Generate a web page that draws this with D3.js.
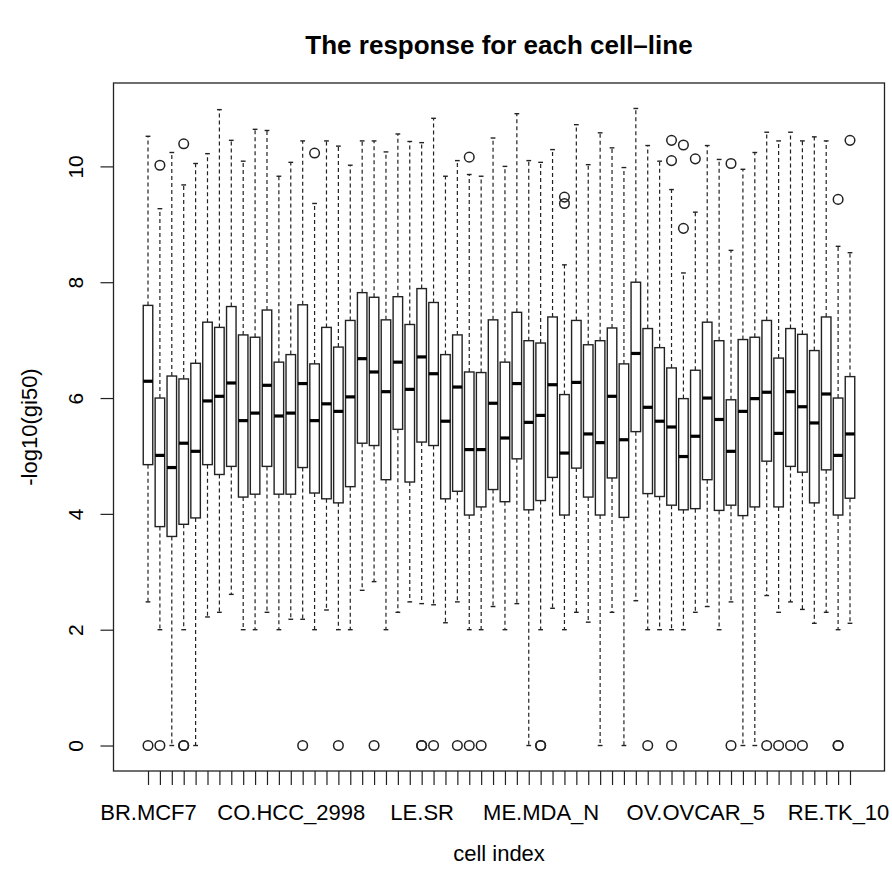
<!DOCTYPE html>
<html>
<head>
<meta charset="utf-8">
<script src="https://cdnjs.cloudflare.com/ajax/libs/d3/7.8.5/d3.min.js"></script>
<style>
    body { margin: 0; background: #fff; }
    svg { display: block; font-family: "Liberation Sans", Arial, Helvetica, sans-serif; }
</style>
</head>
<body>
<div id="chart"></div>
<script>
// NCI-60 cell lines, in plotting order
const cellNames = [
    "BR.MCF7", "BR.MDA_MB_231", "BR.HS578T", "BR.BT_549", "BR.T47D",
    "CNS.SF_268", "CNS.SF_295", "CNS.SF_539", "CNS.SNB_19", "CNS.SNB_75", "CNS.U251",
    "CO.COLO205", "CO.HCC_2998", "CO.HCT_116", "CO.HCT_15", "CO.HT29", "CO.KM12", "CO.SW_620",
    "LE.CCRF_CEM", "LE.HL_60", "LE.K_562", "LE.MOLT_4", "LE.RPMI_8226", "LE.SR",
    "ME.LOX_IMVI", "ME.MALME_3M", "ME.M14", "ME.SK_MEL_2", "ME.SK_MEL_28", "ME.SK_MEL_5",
    "ME.UACC_257", "ME.UACC_62", "ME.MDA_MB_435", "ME.MDA_N",
    "LC.A549", "LC.EKVX", "LC.HOP_62", "LC.HOP_92", "LC.NCI_H226", "LC.NCI_H23",
    "LC.NCI_H322M", "LC.NCI_H460", "LC.NCI_H522",
    "OV.IGROV1", "OV.OVCAR_3", "OV.OVCAR_4", "OV.OVCAR_5", "OV.OVCAR_8", "OV.SK_OV_3", "OV.NCI_ADR_RES",
    "PR.PC_3", "PR.DU_145",
    "RE.786_0", "RE.A498", "RE.ACHN", "RE.CAKI_1", "RE.RXF_393", "RE.SN12C", "RE.TK_10", "RE.UO_31"
];

// five-number summaries
const whiskerLow = [
    2.48, 2.00, 0.00, 2.00, 0.00, 2.22, 2.30, 2.61, 2.00, 2.00,
    2.30, 2.00, 2.18, 2.18, 2.00, 2.34, 2.00, 2.00, 2.68, 2.83,
    2.00, 2.30, 2.48, 2.45, 2.43, 2.12, 2.48, 2.00, 2.00, 2.40,
    2.00, 2.45, 0.00, 2.00, 2.37, 2.00, 2.30, 2.13, 0.00, 2.30,
    0.00, 2.50, 2.00, 2.00, 2.00, 2.00, 2.30, 2.40, 2.00, 2.48,
    0.00, 0.00, 2.59, 2.30, 2.48, 2.35, 2.11, 2.30, 2.00, 2.11
];
const q1 = [
    4.85, 3.78, 3.61, 3.82, 3.93, 4.85, 4.68, 4.82, 4.29, 4.34,
    4.82, 4.34, 4.34, 4.80, 4.36, 4.26, 4.19, 4.47, 5.22, 5.18,
    4.59, 5.46, 4.55, 5.24, 5.18, 4.26, 4.39, 3.98, 4.12, 4.42,
    4.21, 4.95, 4.07, 4.23, 4.63, 3.98, 4.79, 4.29, 3.98, 4.62,
    3.94, 5.42, 4.35, 4.30, 4.15, 4.07, 4.09, 4.59, 4.06, 4.15,
    3.97, 4.12, 4.91, 4.12, 4.82, 4.72, 4.19, 4.76, 3.98, 4.27
];
const medians = [
    6.29, 5.01, 4.80, 5.22, 5.08, 5.95, 6.03, 6.26, 5.61, 5.74,
    6.22, 5.69, 5.74, 6.25, 5.61, 5.90, 5.77, 6.02, 6.68, 6.45,
    6.11, 6.62, 6.15, 6.71, 6.42, 5.60, 6.19, 5.11, 5.11, 5.91,
    5.31, 6.25, 5.58, 5.70, 6.23, 5.05, 6.27, 5.38, 5.23, 6.03,
    5.28, 6.77, 5.84, 5.60, 5.50, 4.99, 5.34, 6.00, 5.63, 5.08,
    5.77, 5.99, 6.10, 5.39, 6.11, 5.85, 5.57, 6.07, 5.01, 5.38
];
const q3 = [
    7.60, 6.00, 6.38, 6.33, 6.60, 7.31, 7.22, 7.58, 7.09, 7.05,
    7.52, 6.62, 6.75, 7.61, 6.59, 7.22, 6.88, 7.34, 7.82, 7.74,
    7.35, 7.75, 7.27, 7.89, 7.65, 6.75, 7.09, 6.45, 6.44, 7.35,
    6.62, 7.48, 6.99, 6.95, 7.40, 6.06, 7.34, 6.92, 6.99, 7.21,
    6.59, 8.00, 7.20, 6.87, 6.52, 5.99, 6.48, 7.31, 6.99, 5.97,
    7.01, 7.05, 7.34, 6.69, 7.20, 7.10, 6.82, 7.40, 6.00, 6.37
];
const whiskerHigh = [
    10.52, 9.27, 10.24, 9.68, 10.05, 10.22, 10.98, 10.45, 10.09, 10.64,
    10.62, 9.83, 10.07, 10.44, 9.36, 10.44, 10.35, 10.02, 10.44, 10.44,
    10.25, 10.56, 10.43, 10.41, 10.83, 9.83, 10.10, 9.86, 9.83, 10.49,
    10.00, 10.91, 10.10, 10.07, 10.29, 8.30, 10.72, 10.03, 10.58, 10.32,
    9.98, 11.00, 10.36, 10.09, 9.60, 8.16, 9.21, 10.36, 10.12, 8.55,
    9.95, 10.24, 10.59, 10.44, 10.59, 10.44, 10.51, 10.44, 8.62, 8.51
];
const outliers = [
    [0], [10.02, 0], [], [10.39, 0, 0], [], [], [], [], [], [],
    [], [], [], [0], [10.23], [], [0], [], [], [0],
    [], [], [], [0, 0], [0], [], [0], [10.16, 0], [0], [],
    [], [], [], [0, 0], [], [9.47, 9.36], [], [], [], [],
    [], [], [0], [], [10.45, 10.10, 0], [10.37, 8.93], [10.13], [], [], [10.05, 0],
    [], [], [0], [0], [0], [0], [], [], [9.43, 0, 0], [10.45]
];
const yTicks = [0, 2, 4, 6, 8, 10];

class BoxPlotVis {
    constructor(_parentElement) {
        this.parentElement = _parentElement;
        this.initVis();
    }

    initVis() {
        let vis = this;

        vis.margin = { top: 83, right: 7.5, bottom: 104, left: 113.5 };
        vis.width = 892 - vis.margin.left - vis.margin.right;
        vis.height = 875 - vis.margin.top - vis.margin.bottom;

        vis.root = d3.select("#" + vis.parentElement).append("svg")
            .attr("width", 892)
            .attr("height", 875);

        vis.svg = vis.root.append("g")
            .attr("transform", "translate(" + vis.margin.left + "," + vis.margin.top + ")");

        // R style: 4% padding on both axes
        let n = cellNames.length;
        vis.x = d3.scaleLinear()
            .domain([0.5 - 0.04 * n, n + 0.5 + 0.04 * n])
            .range([0, vis.width]);

        let yMin = 0, yMax = d3.max(whiskerHigh.concat(outliers.flat()));
        let pad = 0.04 * (yMax - yMin);
        vis.y = d3.scaleLinear()
            .domain([yMin - pad, yMax + pad])
            .range([vis.height, 0]);

        vis.boxW = 0.8 * (vis.x(2) - vis.x(1));

        vis.wrangleData();
    }

    wrangleData() {
        let vis = this;

        vis.displayData = cellNames.map((name, i) => ({
            name: name,
            pos: i + 1,
            lo: whiskerLow[i],
            q1: q1[i],
            med: medians[i],
            q3: q3[i],
            hi: whiskerHigh[i],
            out: outliers[i]
        }));

        vis.updateVis();
    }

    updateVis() {
        let vis = this;
        let ink = "#222";

        let boxes = vis.svg.selectAll(".box")
            .data(vis.displayData)
            .enter().append("g")
            .attr("class", "box")
            .attr("transform", d => "translate(" + vis.x(d.pos) + ",0)");

        // whiskers (dashed)
        boxes.append("line")
            .attr("y1", d => vis.y(d.q3)).attr("y2", d => vis.y(d.hi))
            .attr("stroke", ink).attr("stroke-width", 1.2).attr("stroke-dasharray", "4,3");
        boxes.append("line")
            .attr("y1", d => vis.y(d.q1)).attr("y2", d => vis.y(d.lo))
            .attr("stroke", ink).attr("stroke-width", 1.2).attr("stroke-dasharray", "4,3");

        // staples
        [d => d.hi, d => d.lo].forEach(f => {
            boxes.append("line")
                .attr("x1", -vis.boxW / 4).attr("x2", vis.boxW / 4)
                .attr("y1", d => vis.y(f(d))).attr("y2", d => vis.y(f(d)))
                .attr("stroke", ink).attr("stroke-width", 1.4);
        });

        boxes.append("rect")
            .attr("x", -vis.boxW / 2)
            .attr("width", vis.boxW)
            .attr("y", d => vis.y(d.q3))
            .attr("height", d => vis.y(d.q1) - vis.y(d.q3))
            .attr("fill", "#fff")
            .attr("stroke", ink)
            .attr("stroke-width", 1.4);

        boxes.append("line")
            .attr("x1", -vis.boxW / 2).attr("x2", vis.boxW / 2)
            .attr("y1", d => vis.y(d.med)).attr("y2", d => vis.y(d.med))
            .attr("stroke", "#000").attr("stroke-width", 3.2);

        boxes.selectAll(".outlier")
            .data(d => d.out)
            .enter().append("circle")
            .attr("class", "outlier")
            .attr("cy", v => vis.y(v))
            .attr("r", 4.8)
            .attr("fill", "none")
            .attr("stroke", ink)
            .attr("stroke-width", 1.5);

        // frame
        vis.svg.append("rect")
            .attr("width", vis.width).attr("height", vis.height)
            .attr("fill", "none").attr("stroke", ink).attr("stroke-width", 1.3);

        // axes
        let yAxis = vis.svg.append("g")
            .call(d3.axisLeft(vis.y).tickValues(yTicks).tickSize(13).tickFormat(d3.format("d")));
        yAxis.select(".domain").remove();
        yAxis.selectAll("line").attr("stroke", ink).attr("stroke-width", 1.2);
        yAxis.selectAll("text")
            .attr("x", null).attr("dy", "0.35em")
            .attr("transform", "translate(-38,0) rotate(-90)")
            .attr("text-anchor", "middle")
            .attr("fill", "#000")
            .style("font-size", "21px");

        let labelSize = 22;
        let xAxis = vis.svg.append("g")
            .attr("transform", "translate(0," + vis.height + ")")
            .call(d3.axisBottom(vis.x)
                .tickValues(d3.range(1, cellNames.length + 1))
                .tickSize(14)
                .tickFormat(i => cellNames[i - 1]));
        xAxis.select(".domain").remove();
        xAxis.selectAll("line").attr("stroke", ink).attr("stroke-width", 1.2);
        xAxis.selectAll("text")
            .attr("y", 41).attr("dy", "0.35em")
            .attr("fill", "#000")
            .style("font-size", labelSize + "px");

        // drop labels that would collide, like R's axis()
        let gap = 19.5;
        let lastRight = -Infinity;
        xAxis.selectAll(".tick").each(function (d) {
            let t = d3.select(this).select("text");
            let w = t.node().getComputedTextLength();
            let cx = vis.x(d);
            if (cx - w / 2 > lastRight + gap) {
                lastRight = cx + w / 2;
            } else {
                t.remove();
            }
        });

        // titles
        vis.root.append("text")
            .attr("x", vis.margin.left + vis.width / 2).attr("y", 45)
            .attr("dy", "0.35em")
            .attr("text-anchor", "middle")
            .style("font-size", "26px").style("font-weight", "bold")
            .text("The response for each cell\u2013line");

        vis.root.append("text")
            .attr("x", vis.margin.left + vis.width / 2).attr("y", 853)
            .attr("dy", "0.35em")
            .attr("text-anchor", "middle")
            .style("font-size", "22px")
            .text("cell index");

        vis.root.append("text")
            .attr("transform", "translate(29," + (vis.margin.top + vis.height / 2) + ") rotate(-90)")
            .attr("dy", "0.35em")
            .attr("text-anchor", "middle")
            .style("font-size", "22px")
            .text("-log10(gi50)");
    }
}

new BoxPlotVis("chart");
</script>
</body>
</html>
